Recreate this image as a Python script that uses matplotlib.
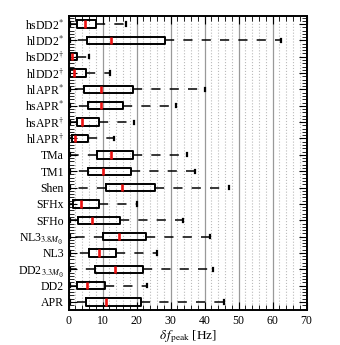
"""Box plot of peak frequency deviation for each EOS model."""
import matplotlib

matplotlib.use("Agg")
import matplotlib.pyplot as plt
from matplotlib.ticker import MultipleLocator

plt.rcParams["font.family"] = ["Liberation Serif", "DejaVu Serif"]
plt.rcParams["mathtext.fontset"] = "stix"

# Models, top to bottom.
labels = [
    r"hsDD2$^{*}$", r"hlDD2$^{*}$", r"hsDD2$^{\dagger}$", r"hlDD2$^{\dagger}$",
    r"hlAPR$^{*}$", r"hsAPR$^{*}$", r"hsAPR$^{\dagger}$", r"hlAPR$^{\dagger}$",
    "TMa", "TM1", "Shen", "SFHx", "SFHo", r"NL3$_{3.8M_{\odot}}$", "NL3",
    r"DD2$_{3.3M_{\odot}}$", "DD2", "APR",
]

# Box statistics in Hz.
whislo = [0.3, 0.3, 0.2, 0.2, 0.3, 0.3, 0.3, 0.2, 0.3, 0.3, 0.3, 0.2, 0.3, 0.3, 0.3, 0.3, 0.3, 0.3]
q1 = [2.5, 5.5, 0.4, 0.4, 4.6, 5.7, 2.4, 0.9, 8.2, 5.8, 10.9, 1.4, 2.8, 10.0, 6.0, 7.8, 2.5, 5.0]
med = [4.7, 12.4, 1.0, 1.6, 9.6, 9.4, 4.0, 1.85, 12.4, 10.0, 15.7, 3.7, 6.8, 14.9, 9.0, 13.6, 5.3, 10.9]
q3 = [8.0, 28.3, 2.5, 5.1, 18.8, 16.1, 9.0, 5.8, 18.8, 18.3, 25.4, 8.8, 15.1, 22.6, 13.9, 21.8, 10.7, 21.3]
whishi = [17.0, 62.4, 6.1, 12.1, 40.1, 31.6, 19.2, 13.3, 34.7, 37.3, 47.1, 20.0, 33.7, 41.6, 25.9, 42.4, 22.9, 45.8]

stats = [
    dict(label=lab, whislo=lo, q1=a, med=m, q3=b, whishi=hi, fliers=[])
    for lab, lo, a, m, b, hi in zip(labels, whislo, q1, med, q3, whishi)
]

fig = plt.figure(figsize=(3.4, 3.45), dpi=100)
ax = fig.add_axes([0.202, 0.101, 0.700, 0.853])

positions = list(range(1, len(labels) + 1))
ax.bxp(
    stats,
    positions=positions,
    vert=False,
    widths=0.45,
    showfliers=False,
    boxprops=dict(color="black", linewidth=1.4),
    medianprops=dict(color="#ee1111", linewidth=1.9),
    whiskerprops=dict(color="black", linewidth=1.1, linestyle=(0, (6, 6))),
    capprops=dict(color="black", linewidth=1.6),
    capwidths=0.2,
    zorder=3,
)

ax.set_xlim(0, 70)
ax.set_ylim(len(labels) + 0.5, 0.5)

# Axis label and ticks.
ax.set_xlabel(r"$\delta\, f_{\rm peak}$ [Hz]", fontsize=9.5, labelpad=1)
ax.set_yticks(positions)
ax.set_yticklabels(labels)
ax.xaxis.set_major_locator(MultipleLocator(10))
ax.xaxis.set_minor_locator(MultipleLocator(2))
ax.yaxis.set_minor_locator(MultipleLocator(0.2))
ax.tick_params(which="both", direction="in", top=True, right=True, labelsize=8.5)
ax.tick_params(which="major", length=6, width=0.8)
ax.tick_params(which="minor", length=3.5, width=0.6)

# Grid: solid majors, dotted minors on x only.
ax.grid(True, axis="x", which="major", color="#999999", linewidth=0.9, zorder=0)
ax.grid(True, axis="x", which="minor", color="#bbbbbb", linewidth=0.8,
        linestyle=":", zorder=0)
ax.set_axisbelow(True)

for spine in ax.spines.values():
    spine.set_linewidth(1.4)

fig.savefig("out.png", dpi=100)
